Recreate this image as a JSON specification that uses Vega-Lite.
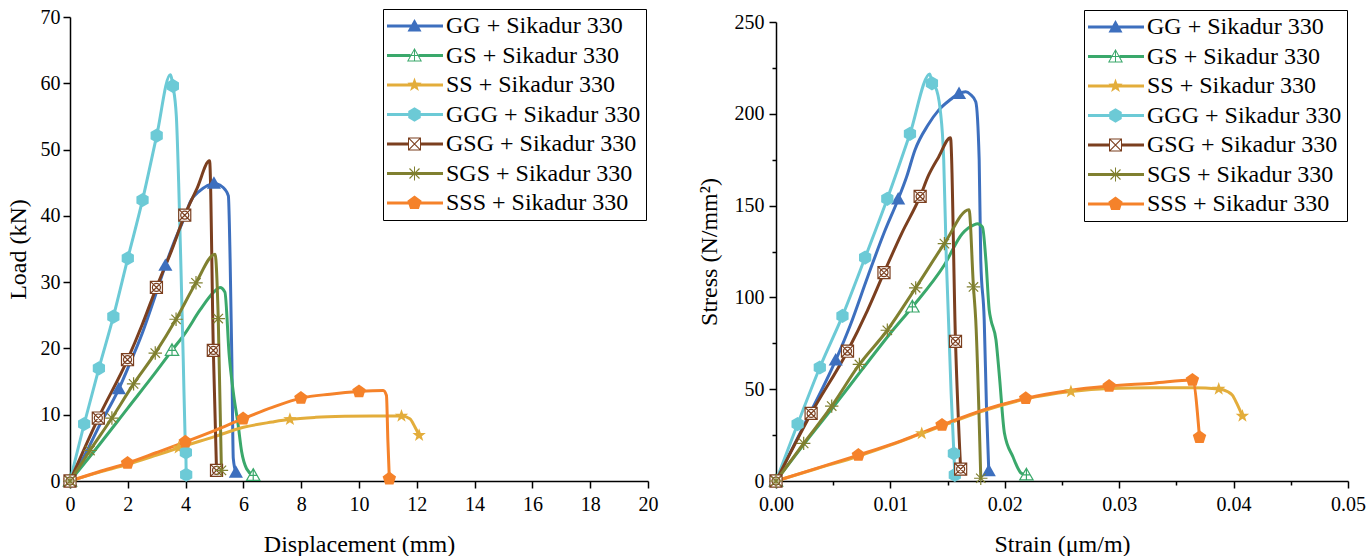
{
  "$schema": "https://vega.github.io/schema/vega-lite/v6.json",
  "background": "white",
  "padding": {"left": 6, "top": 7, "right": 0, "bottom": 0},
  "bounds": "flush",
  "spacing": 128,
  "datasets": {
    "load_curve": [
      {"series":"GG","displacement":0,"load":0},{"series":"GG","displacement":0.5,"load":3.8},{"series":"GG","displacement":1,"load":8.2},{"series":"GG","displacement":1.69,"load":13.9},{"series":"GG","displacement":2,"load":17},{"series":"GG","displacement":2.5,"load":22.3},{"series":"GG","displacement":3,"load":28.6},{"series":"GG","displacement":3.3,"load":32.5},{"series":"GG","displacement":3.6,"load":36},{"series":"GG","displacement":4,"load":40.2},{"series":"GG","displacement":4.15,"load":42},{"series":"GG","displacement":4.5,"load":43.8},{"series":"GG","displacement":4.73,"load":44.5},{"series":"GG","displacement":4.98,"load":44.9},{"series":"GG","displacement":5.2,"load":44.6},{"series":"GG","displacement":5.36,"load":44},{"series":"GG","displacement":5.48,"load":43},{"series":"GG","displacement":5.54,"load":33.5},{"series":"GG","displacement":5.6,"load":18.4},{"series":"GG","displacement":5.65,"load":3.4},{"series":"GG","displacement":5.74,"load":1.3},
      {"series":"GS","displacement":0,"load":0},{"series":"GS","displacement":1,"load":5.4},{"series":"GS","displacement":2,"load":11},{"series":"GS","displacement":3,"load":16.6},{"series":"GS","displacement":3.53,"load":19.7},{"series":"GS","displacement":4,"load":22.4},{"series":"GS","displacement":4.5,"load":25.8},{"series":"GS","displacement":5,"load":28.6},{"series":"GS","displacement":5.19,"load":29.2},{"series":"GS","displacement":5.36,"load":28.5},{"series":"GS","displacement":5.51,"load":18.9},{"series":"GS","displacement":5.65,"load":13.4},{"series":"GS","displacement":5.82,"load":8.4},{"series":"GS","displacement":5.94,"load":4.4},{"series":"GS","displacement":6.11,"load":1.85},{"series":"GS","displacement":6.34,"load":0.85},
      {"series":"SS","displacement":0,"load":0},{"series":"SS","displacement":1,"load":1.3},{"series":"SS","displacement":2,"load":2.5},{"series":"SS","displacement":3,"load":3.9},{"series":"SS","displacement":3.76,"load":5},{"series":"SS","displacement":5,"load":6.7},{"series":"SS","displacement":6,"load":8.1},{"series":"SS","displacement":7,"load":8.9},{"series":"SS","displacement":7.61,"load":9.3},{"series":"SS","displacement":8.5,"load":9.6},{"series":"SS","displacement":9.5,"load":9.75},{"series":"SS","displacement":10.5,"load":9.8},{"series":"SS","displacement":11.47,"load":9.8},{"series":"SS","displacement":11.76,"load":9.4},{"series":"SS","displacement":11.94,"load":8.1},{"series":"SS","displacement":12.08,"load":6.9},
      {"series":"GGG","displacement":0,"load":0},{"series":"GGG","displacement":0.49,"load":8.6},{"series":"GGG","displacement":1,"load":17},{"series":"GGG","displacement":1.5,"load":24.8},{"series":"GGG","displacement":2,"load":33.6},{"series":"GGG","displacement":2.51,"load":42.4},{"series":"GGG","displacement":3,"load":52.1},{"series":"GGG","displacement":3.47,"load":61.3},{"series":"GGG","displacement":3.56,"load":59.6},{"series":"GGG","displacement":3.68,"load":55},{"series":"GGG","displacement":3.76,"load":45},{"series":"GGG","displacement":3.84,"load":32},{"series":"GGG","displacement":3.92,"load":18},{"series":"GGG","displacement":3.98,"load":7},{"series":"GGG","displacement":4.01,"load":4.3},{"series":"GGG","displacement":4.02,"load":0.95},
      {"series":"GSG","displacement":0,"load":0},{"series":"GSG","displacement":0.98,"load":9.5},{"series":"GSG","displacement":1.99,"load":18.3},{"series":"GSG","displacement":2.5,"load":23.6},{"series":"GSG","displacement":2.99,"load":29.2},{"series":"GSG","displacement":3.5,"load":34.6},{"series":"GSG","displacement":3.97,"load":40.1},{"series":"GSG","displacement":4.4,"load":44.2},{"series":"GSG","displacement":4.83,"load":48.3},{"series":"GSG","displacement":4.96,"load":19.7},{"series":"GSG","displacement":5.07,"load":1.6},
      {"series":"SGS","displacement":0,"load":0},{"series":"SGS","displacement":0.69,"load":4.6},{"series":"SGS","displacement":1.45,"load":9.5},{"series":"SGS","displacement":2.2,"load":14.65},{"series":"SGS","displacement":2.95,"load":19.3},{"series":"SGS","displacement":3.67,"load":24.4},{"series":"SGS","displacement":4.36,"load":29.9},{"series":"SGS","displacement":5.02,"load":34.2},{"series":"SGS","displacement":5.13,"load":24.5},{"series":"SGS","displacement":5.24,"load":1.6},
      {"series":"SSS","displacement":0,"load":0},{"series":"SSS","displacement":1,"load":1.4},{"series":"SSS","displacement":1.99,"load":2.7},{"series":"SSS","displacement":3,"load":4.3},{"series":"SSS","displacement":3.99,"load":5.9},{"series":"SSS","displacement":5,"load":7.6},{"series":"SSS","displacement":5.99,"load":9.4},{"series":"SSS","displacement":7,"load":11.1},{"series":"SSS","displacement":7.99,"load":12.5},{"series":"SSS","displacement":9,"load":13.1},{"series":"SSS","displacement":10,"load":13.5},{"series":"SSS","displacement":10.84,"load":13.65},{"series":"SSS","displacement":10.95,"load":12.9},{"series":"SSS","displacement":11,"load":6},{"series":"SSS","displacement":11.05,"load":0.35}
    ],
    "load_markers": [
      {"series":"GG","displacement":0,"load":0},{"series":"GG","displacement":1.69,"load":13.9},{"series":"GG","displacement":3.3,"load":32.5},{"series":"GG","displacement":4.98,"load":44.9},{"series":"GG","displacement":5.74,"load":1.3},
      {"series":"GS","displacement":0,"load":0},{"series":"GS","displacement":3.53,"load":19.7},{"series":"GS","displacement":6.34,"load":0.85},
      {"series":"SS","displacement":0,"load":0},{"series":"SS","displacement":3.76,"load":5},{"series":"SS","displacement":7.61,"load":9.3},{"series":"SS","displacement":11.47,"load":9.8},{"series":"SS","displacement":12.08,"load":6.9},
      {"series":"GGG","displacement":0,"load":0},{"series":"GGG","displacement":0.49,"load":8.6},{"series":"GGG","displacement":1,"load":17},{"series":"GGG","displacement":1.5,"load":24.8},{"series":"GGG","displacement":2,"load":33.6},{"series":"GGG","displacement":2.51,"load":42.4},{"series":"GGG","displacement":3,"load":52.1},{"series":"GGG","displacement":3.56,"load":59.6},{"series":"GGG","displacement":4.01,"load":4.3},{"series":"GGG","displacement":4.02,"load":0.95},
      {"series":"GSG","displacement":0,"load":0},{"series":"GSG","displacement":0.98,"load":9.5},{"series":"GSG","displacement":1.99,"load":18.3},{"series":"GSG","displacement":2.99,"load":29.2},{"series":"GSG","displacement":3.97,"load":40.1},{"series":"GSG","displacement":4.96,"load":19.7},{"series":"GSG","displacement":5.07,"load":1.6},
      {"series":"SGS","displacement":0,"load":0},{"series":"SGS","displacement":0.69,"load":4.6},{"series":"SGS","displacement":1.45,"load":9.5},{"series":"SGS","displacement":2.2,"load":14.65},{"series":"SGS","displacement":2.95,"load":19.3},{"series":"SGS","displacement":3.67,"load":24.4},{"series":"SGS","displacement":4.36,"load":29.9},{"series":"SGS","displacement":5.13,"load":24.5},{"series":"SGS","displacement":5.24,"load":1.6},
      {"series":"SSS","displacement":0,"load":0},{"series":"SSS","displacement":1.99,"load":2.7},{"series":"SSS","displacement":3.99,"load":5.9},{"series":"SSS","displacement":5.99,"load":9.4},{"series":"SSS","displacement":7.99,"load":12.5},{"series":"SSS","displacement":10,"load":13.5},{"series":"SSS","displacement":11.05,"load":0.35}
    ],
    "stress_curve": [
      {"series":"GG","strain":0,"stress":0},{"series":"GG","strain":0.0025,"stress":31},{"series":"GG","strain":0.00522,"stress":65.8},{"series":"GG","strain":0.0065,"stress":85},{"series":"GG","strain":0.008,"stress":111},{"series":"GG","strain":0.0095,"stress":136},{"series":"GG","strain":0.01068,"stress":153.5},{"series":"GG","strain":0.01142,"stress":165.7},{"series":"GG","strain":0.01215,"stress":180.3},{"series":"GG","strain":0.0133,"stress":194},{"series":"GG","strain":0.01422,"stress":202},{"series":"GG","strain":0.0152,"stress":207.5},{"series":"GG","strain":0.016,"stress":211},{"series":"GG","strain":0.01658,"stress":212},{"series":"GG","strain":0.017,"stress":210.5},{"series":"GG","strain":0.01746,"stress":206.6},{"series":"GG","strain":0.01776,"stress":175},{"series":"GG","strain":0.0179,"stress":120},{"series":"GG","strain":0.0182,"stress":87.7},{"series":"GG","strain":0.0184,"stress":40},{"series":"GG","strain":0.0186,"stress":5.5},
      {"series":"GS","strain":0,"stress":0},{"series":"GS","strain":0.0025,"stress":20.5},{"series":"GS","strain":0.005,"stress":40.2},{"series":"GS","strain":0.0075,"stress":60.5},{"series":"GS","strain":0.01,"stress":80.5},{"series":"GS","strain":0.01192,"stress":94.8},{"series":"GS","strain":0.0147,"stress":117.5},{"series":"GS","strain":0.01628,"stress":134.7},{"series":"GS","strain":0.0173,"stress":139.5},{"series":"GS","strain":0.01761,"stress":140.1},{"series":"GS","strain":0.01805,"stress":138.3},{"series":"GS","strain":0.01835,"stress":120},{"series":"GS","strain":0.01864,"stress":93},{"series":"GS","strain":0.01879,"stress":87.7},{"series":"GS","strain":0.01923,"stress":76.8},{"series":"GS","strain":0.01953,"stress":57},{"series":"GS","strain":0.01997,"stress":26},{"series":"GS","strain":0.02071,"stress":13.2},{"series":"GS","strain":0.02144,"stress":4.2},{"series":"GS","strain":0.02189,"stress":3.3},
      {"series":"SS","strain":0,"stress":0},{"series":"SS","strain":0.0036,"stress":6.8},{"series":"SS","strain":0.0072,"stress":13.5},{"series":"SS","strain":0.01,"stress":19.5},{"series":"SS","strain":0.01274,"stress":25.9},{"series":"SS","strain":0.0145,"stress":30},{"series":"SS","strain":0.018,"stress":38},{"series":"SS","strain":0.0218,"stress":44.6},{"series":"SS","strain":0.02578,"stress":48.7},{"series":"SS","strain":0.0291,"stress":50.4},{"series":"SS","strain":0.033,"stress":50.8},{"series":"SS","strain":0.0364,"stress":50.8},{"series":"SS","strain":0.0387,"stress":50.1},{"series":"SS","strain":0.0395,"stress":48.6},{"series":"SS","strain":0.03989,"stress":46.8},{"series":"SS","strain":0.0403,"stress":42},{"series":"SS","strain":0.04077,"stress":35.4},
      {"series":"GGG","strain":0,"stress":0},{"series":"GGG","strain":0.00189,"stress":31},{"series":"GGG","strain":0.00383,"stress":61.8},{"series":"GGG","strain":0.00581,"stress":89.9},{"series":"GGG","strain":0.00779,"stress":121.7},{"series":"GGG","strain":0.00973,"stress":153.7},{"series":"GGG","strain":0.01171,"stress":189.1},{"series":"GGG","strain":0.01345,"stress":221.7},{"series":"GGG","strain":0.01363,"stress":216.6},{"series":"GGG","strain":0.01392,"stress":214.8},{"series":"GGG","strain":0.01436,"stress":202},{"series":"GGG","strain":0.01466,"stress":175},{"series":"GGG","strain":0.01489,"stress":120.4},{"series":"GGG","strain":0.01531,"stress":47.7},{"series":"GGG","strain":0.01555,"stress":15},{"series":"GGG","strain":0.01563,"stress":3.3},
      {"series":"GSG","strain":0,"stress":0},{"series":"GSG","strain":0.00307,"stress":36.8},{"series":"GSG","strain":0.00625,"stress":70.7},{"series":"GSG","strain":0.008,"stress":93},{"series":"GSG","strain":0.00944,"stress":113.5},{"series":"GSG","strain":0.011,"stress":135},{"series":"GSG","strain":0.0126,"stress":155},{"series":"GSG","strain":0.01333,"stress":166.4},{"series":"GSG","strain":0.01422,"stress":176.5},{"series":"GSG","strain":0.01525,"stress":187},{"series":"GSG","strain":0.01569,"stress":76.1},{"series":"GSG","strain":0.01614,"stress":6.5},
      {"series":"SGS","strain":0,"stress":0},{"series":"SGS","strain":0.00242,"stress":20.5},{"series":"SGS","strain":0.00487,"stress":40.8},{"series":"SGS","strain":0.00729,"stress":63.5},{"series":"SGS","strain":0.00973,"stress":82.1},{"series":"SGS","strain":0.01221,"stress":105.2},{"series":"SGS","strain":0.01472,"stress":129.3},{"series":"SGS","strain":0.01687,"stress":147.8},{"series":"SGS","strain":0.01726,"stress":105.7},{"series":"SGS","strain":0.01746,"stress":87.7},{"series":"SGS","strain":0.0179,"stress":1.5},
      {"series":"SSS","strain":0,"stress":0},{"series":"SSS","strain":0.0036,"stress":7},{"series":"SSS","strain":0.0072,"stress":14.1},{"series":"SSS","strain":0.011,"stress":22},{"series":"SSS","strain":0.01451,"stress":30.5},{"series":"SSS","strain":0.018,"stress":38.5},{"series":"SSS","strain":0.02183,"stress":45},{"series":"SSS","strain":0.0255,"stress":49.2},{"series":"SSS","strain":0.02912,"stress":51.7},{"series":"SSS","strain":0.033,"stress":53.3},{"series":"SSS","strain":0.0364,"stress":55},{"series":"SSS","strain":0.03702,"stress":23.8}
    ],
    "stress_markers": [
      {"series":"GG","strain":0,"stress":0},{"series":"GG","strain":0.00522,"stress":65.8},{"series":"GG","strain":0.01068,"stress":153.5},{"series":"GG","strain":0.016,"stress":211},{"series":"GG","strain":0.0186,"stress":5.5},
      {"series":"GS","strain":0,"stress":0},{"series":"GS","strain":0.01192,"stress":94.8},{"series":"GS","strain":0.02189,"stress":3.3},
      {"series":"SS","strain":0,"stress":0},{"series":"SS","strain":0.01274,"stress":25.9},{"series":"SS","strain":0.02578,"stress":48.7},{"series":"SS","strain":0.0387,"stress":50.1},{"series":"SS","strain":0.04077,"stress":35.4},
      {"series":"GGG","strain":0,"stress":0},{"series":"GGG","strain":0.00189,"stress":31},{"series":"GGG","strain":0.00383,"stress":61.8},{"series":"GGG","strain":0.00581,"stress":89.9},{"series":"GGG","strain":0.00779,"stress":121.7},{"series":"GGG","strain":0.00973,"stress":153.7},{"series":"GGG","strain":0.01171,"stress":189.1},{"series":"GGG","strain":0.01363,"stress":216.6},{"series":"GGG","strain":0.01555,"stress":15},{"series":"GGG","strain":0.01563,"stress":3.3},
      {"series":"GSG","strain":0,"stress":0},{"series":"GSG","strain":0.00307,"stress":36.8},{"series":"GSG","strain":0.00625,"stress":70.7},{"series":"GSG","strain":0.00944,"stress":113.5},{"series":"GSG","strain":0.0126,"stress":155},{"series":"GSG","strain":0.01569,"stress":76.1},{"series":"GSG","strain":0.01614,"stress":6.5},
      {"series":"SGS","strain":0,"stress":0},{"series":"SGS","strain":0.00242,"stress":20.5},{"series":"SGS","strain":0.00487,"stress":40.8},{"series":"SGS","strain":0.00729,"stress":63.5},{"series":"SGS","strain":0.00973,"stress":82.1},{"series":"SGS","strain":0.01221,"stress":105.2},{"series":"SGS","strain":0.01472,"stress":129.3},{"series":"SGS","strain":0.01726,"stress":105.7},{"series":"SGS","strain":0.0179,"stress":1.5},
      {"series":"SSS","strain":0,"stress":0},{"series":"SSS","strain":0.0072,"stress":14.1},{"series":"SSS","strain":0.01451,"stress":30.5},{"series":"SSS","strain":0.02183,"stress":45},{"series":"SSS","strain":0.02912,"stress":51.7},{"series":"SSS","strain":0.0364,"stress":55},{"series":"SSS","strain":0.03702,"stress":23.8}
    ]
  },
  "hconcat": [
    {
      "width": 578,
      "height": 464,
      "layer": [
        {
          "data": {"name": "load_markers"},
          "transform": [{"filter": "datum.load < 0"}],
          "mark": {"type": "point", "filled": true, "size": 400, "opacity": 1, "strokeWidth": 0},
          "encoding": {
            "x": {"field": "displacement", "type": "quantitative", "scale": {"domain": [0, 20], "nice": false},
              "axis": {"title": "Displacement (mm)", "values": [0,1,2,3,4,5,6,7,8,9,10,11,12,13,14,15,16,17,18,19,20],
                "labelExpr": "datum.value % 2 === 0 ? datum.label : ''",
                "tickSize": {"condition": {"test": "datum.value % 2 === 0", "value": 7}, "value": 4}}},
            "y": {"field": "load", "type": "quantitative", "scale": {"domain": [0, 70], "nice": false},
              "axis": {"title": "Load (kN)", "values": [0,5,10,15,20,25,30,35,40,45,50,55,60,65,70],
                "labelExpr": "datum.value % 10 === 0 ? datum.label : ''",
                "tickSize": {"condition": {"test": "datum.value % 10 === 0", "value": 7}, "value": 4}}},
            "color": {"field": "series", "type": "nominal",
              "scale": {"domain": ["GG","GS","SS","GGG","GSG","SGS","SSS"], "range": ["#3D6FBE","#3AA86B","#E3AD3B","#6CCAD6","#7B3F1F","#808030","#F5822A"]},
              "legend": {"orient": "none", "legendX": 313, "legendY": -8, "title": null,
                "labelExpr": "datum.label + ' + Sikadur 330'"}},
            "shape": {"field": "series", "type": "nominal", "legend": null,
              "scale": {"domain": ["GG","GS","SS","GGG","GSG","SGS","SSS"],
                "range": ["M-1.3,-0.15L4.3,-0.15L4.3,0.15L-1.3,0.15Z M1.45,-0.7L2.15,0.55L0.75,0.55Z",
                  "M-1.3,-0.15L1.05,-0.15L1.05,0.15L-1.3,0.15Z M1.85,-0.15L4.3,-0.15L4.3,0.15L1.85,0.15Z M1.45,-0.75L2.2,0.6L0.7,0.6Z M1.45,-0.544L0.87,0.5L2.03,0.5Z M1.4,-0.7L1.5,-0.7L1.5,0.6L1.4,0.6Z M1.05,-0.05L1.85,-0.05L1.85,0.05L1.05,0.05Z",
                  "M-1.3,-0.15L4.3,-0.15L4.3,0.15L-1.3,0.15Z M1.45,-0.75L1.626,-0.243L2.163,-0.232L1.735,0.093L1.891,0.607L1.45,0.3L1.009,0.607L1.165,0.093L0.737,-0.232L1.274,-0.243Z",
                  "M-1.3,-0.15L4.3,-0.15L4.3,0.15L-1.3,0.15Z M1.45,-0.72L2.074,-0.36L2.074,0.36L1.45,0.72L0.826,0.36L0.826,-0.36Z",
                  "M-1.3,-0.15L0.8,-0.15L0.8,0.15L-1.3,0.15Z M2.1,-0.15L4.3,-0.15L4.3,0.15L2.1,0.15Z M0.8,-0.65L2.1,-0.65L2.1,0.65L0.8,0.65Z M0.9,-0.55L0.9,0.55L2,0.55L2,-0.55Z M0.88,-0.65L2.1,0.57L2.02,0.65L0.8,-0.57Z M2.1,-0.57L0.88,0.65L0.8,0.57L2.02,-0.65Z",
                  "M-1.3,-0.15L4.3,-0.15L4.3,0.15L-1.3,0.15Z M1.4,-0.7L1.5,-0.7L1.5,0.7L1.4,0.7Z M0.99,-0.54L1.99,0.46L1.91,0.54L0.91,-0.46Z M1.99,-0.46L0.99,0.54L0.91,0.46L1.91,-0.54Z",
                  "M-1.3,-0.15L4.3,-0.15L4.3,0.15L-1.3,0.15Z M1.45,-0.75L2.163,-0.232L1.891,0.607L1.009,0.607L0.737,-0.232Z"]}}
          }
        },
        {
          "data": {"name": "load_curve"},
          "mark": {"type": "line", "strokeWidth": 3, "interpolate": "monotone"},
          "encoding": {
            "x": {"field": "displacement", "type": "quantitative"},
            "y": {"field": "load", "type": "quantitative"},
            "color": {"field": "series", "type": "nominal", "legend": null}
          }
        },
        {
          "data": {"name": "load_markers"},
          "transform": [{"filter": {"field": "series", "oneOf": ["GG","SS","GGG","SSS"]}}],
          "mark": {"type": "point", "filled": true, "size": 200, "opacity": 1},
          "encoding": {
            "x": {"field": "displacement", "type": "quantitative"},
            "y": {"field": "load", "type": "quantitative"},
            "color": {"field": "series", "type": "nominal", "legend": null},
            "shape": {"condition": [
              {"test": "datum.series === 'GG'", "value": "M0,-1L1,0.75L-1,0.75Z"},
              {"test": "datum.series === 'SS'", "value": "M0,-1L0.235,-0.324L0.951,-0.309L0.38,0.124L0.588,0.809L0,0.4L-0.588,0.809L-0.38,0.124L-0.951,-0.309L-0.235,-0.324Z"},
              {"test": "datum.series === 'GGG'", "value": "M0,-1L0.866,-0.5L0.866,0.5L0,1L-0.866,0.5L-0.866,-0.5Z"}],
              "value": "M0,-1L0.951,-0.309L0.588,0.809L-0.588,0.809L-0.951,-0.309Z"}
          }
        },
        {
          "data": {"name": "load_markers"},
          "transform": [{"filter": {"field": "series", "oneOf": ["GS","GSG","SGS"]}}],
          "mark": {"type": "point", "filled": false, "fill": "white", "fillOpacity": 1, "strokeWidth": 1.2, "size": 180, "opacity": 1},
          "encoding": {
            "x": {"field": "displacement", "type": "quantitative"},
            "y": {"field": "load", "type": "quantitative"},
            "color": {"field": "series", "type": "nominal", "legend": null},
            "shape": {"condition": [
              {"test": "datum.series === 'GS'", "value": "M0,-1L1,0.75L-1,0.75Z M0,-1L0,0.75 M-0.55,0L0.55,0"},
              {"test": "datum.series === 'GSG'", "value": "M-0.9,-0.9L0.9,-0.9L0.9,0.9L-0.9,0.9Z M-0.9,-0.9L0.9,0.9 M0.9,-0.9L-0.9,0.9 M0.6,0A0.6,0.6 0 1 1 -0.6,0A0.6,0.6 0 1 1 0.6,0"}],
              "value": "M0,-1L0,1 M-1,0L1,0 M-0.7,-0.7L0.7,0.7 M0.7,-0.7L-0.7,0.7"}
          }
        }
      ]
    },
    {
      "width": 572,
      "height": 464,
      "layer": [
        {
          "data": {"name": "stress_markers"},
          "transform": [{"filter": "datum.stress < 0"}],
          "mark": {"type": "point", "filled": true, "size": 400, "opacity": 1, "strokeWidth": 0},
          "encoding": {
            "x": {"field": "strain", "type": "quantitative", "scale": {"domain": [0, 0.05], "nice": false},
              "axis": {"title": "Strain (μm/m)", "values": [0,0.005,0.01,0.015,0.02,0.025,0.03,0.035,0.04,0.045,0.05],
                "labelExpr": "round(datum.value*1000) % 10 === 0 ? format(datum.value, '.2f') : ''",
                "tickSize": {"condition": {"test": "round(datum.value*1000) % 10 === 0", "value": 7}, "value": 4}}},
            "y": {"field": "stress", "type": "quantitative", "scale": {"domain": [0, 250], "nice": false, "range": [464, 5]},
              "axis": {"title": "Stress (N/mm²)", "values": [0,25,50,75,100,125,150,175,200,225,250],
                "labelPadding": 5, "titlePadding": 13,
                "labelExpr": "datum.value % 50 === 0 ? datum.label : ''",
                "tickSize": {"condition": {"test": "datum.value % 50 === 0", "value": 7}, "value": 4}}},
            "color": {"field": "series", "type": "nominal",
              "scale": {"domain": ["GG","GS","SS","GGG","GSG","SGS","SSS"], "range": ["#3D6FBE","#3AA86B","#E3AD3B","#6CCAD6","#7B3F1F","#808030","#F5822A"]},
              "legend": {"orient": "none", "legendX": 308, "legendY": -7, "title": null,
                "labelExpr": "datum.label + ' + Sikadur 330'"}},
            "shape": {"field": "series", "type": "nominal", "legend": null,
              "scale": {"domain": ["GG","GS","SS","GGG","GSG","SGS","SSS"],
                "range": ["M-1.3,-0.15L4.3,-0.15L4.3,0.15L-1.3,0.15Z M1.45,-0.7L2.15,0.55L0.75,0.55Z",
                  "M-1.3,-0.15L1.05,-0.15L1.05,0.15L-1.3,0.15Z M1.85,-0.15L4.3,-0.15L4.3,0.15L1.85,0.15Z M1.45,-0.75L2.2,0.6L0.7,0.6Z M1.45,-0.544L0.87,0.5L2.03,0.5Z M1.4,-0.7L1.5,-0.7L1.5,0.6L1.4,0.6Z M1.05,-0.05L1.85,-0.05L1.85,0.05L1.05,0.05Z",
                  "M-1.3,-0.15L4.3,-0.15L4.3,0.15L-1.3,0.15Z M1.45,-0.75L1.626,-0.243L2.163,-0.232L1.735,0.093L1.891,0.607L1.45,0.3L1.009,0.607L1.165,0.093L0.737,-0.232L1.274,-0.243Z",
                  "M-1.3,-0.15L4.3,-0.15L4.3,0.15L-1.3,0.15Z M1.45,-0.72L2.074,-0.36L2.074,0.36L1.45,0.72L0.826,0.36L0.826,-0.36Z",
                  "M-1.3,-0.15L0.8,-0.15L0.8,0.15L-1.3,0.15Z M2.1,-0.15L4.3,-0.15L4.3,0.15L2.1,0.15Z M0.8,-0.65L2.1,-0.65L2.1,0.65L0.8,0.65Z M0.9,-0.55L0.9,0.55L2,0.55L2,-0.55Z M0.88,-0.65L2.1,0.57L2.02,0.65L0.8,-0.57Z M2.1,-0.57L0.88,0.65L0.8,0.57L2.02,-0.65Z",
                  "M-1.3,-0.15L4.3,-0.15L4.3,0.15L-1.3,0.15Z M1.4,-0.7L1.5,-0.7L1.5,0.7L1.4,0.7Z M0.99,-0.54L1.99,0.46L1.91,0.54L0.91,-0.46Z M1.99,-0.46L0.99,0.54L0.91,0.46L1.91,-0.54Z",
                  "M-1.3,-0.15L4.3,-0.15L4.3,0.15L-1.3,0.15Z M1.45,-0.75L2.163,-0.232L1.891,0.607L1.009,0.607L0.737,-0.232Z"]}}
          }
        },
        {
          "data": {"name": "stress_curve"},
          "mark": {"type": "line", "strokeWidth": 3, "interpolate": "monotone"},
          "encoding": {
            "x": {"field": "strain", "type": "quantitative"},
            "y": {"field": "stress", "type": "quantitative"},
            "color": {"field": "series", "type": "nominal", "legend": null}
          }
        },
        {
          "data": {"name": "stress_markers"},
          "transform": [{"filter": {"field": "series", "oneOf": ["GG","SS","GGG","SSS"]}}],
          "mark": {"type": "point", "filled": true, "size": 200, "opacity": 1},
          "encoding": {
            "x": {"field": "strain", "type": "quantitative"},
            "y": {"field": "stress", "type": "quantitative"},
            "color": {"field": "series", "type": "nominal", "legend": null},
            "shape": {"condition": [
              {"test": "datum.series === 'GG'", "value": "M0,-1L1,0.75L-1,0.75Z"},
              {"test": "datum.series === 'SS'", "value": "M0,-1L0.235,-0.324L0.951,-0.309L0.38,0.124L0.588,0.809L0,0.4L-0.588,0.809L-0.38,0.124L-0.951,-0.309L-0.235,-0.324Z"},
              {"test": "datum.series === 'GGG'", "value": "M0,-1L0.866,-0.5L0.866,0.5L0,1L-0.866,0.5L-0.866,-0.5Z"}],
              "value": "M0,-1L0.951,-0.309L0.588,0.809L-0.588,0.809L-0.951,-0.309Z"}
          }
        },
        {
          "data": {"name": "stress_markers"},
          "transform": [{"filter": {"field": "series", "oneOf": ["GS","GSG","SGS"]}}],
          "mark": {"type": "point", "filled": false, "fill": "white", "fillOpacity": 1, "strokeWidth": 1.2, "size": 180, "opacity": 1},
          "encoding": {
            "x": {"field": "strain", "type": "quantitative"},
            "y": {"field": "stress", "type": "quantitative"},
            "color": {"field": "series", "type": "nominal", "legend": null},
            "shape": {"condition": [
              {"test": "datum.series === 'GS'", "value": "M0,-1L1,0.75L-1,0.75Z M0,-1L0,0.75 M-0.55,0L0.55,0"},
              {"test": "datum.series === 'GSG'", "value": "M-0.9,-0.9L0.9,-0.9L0.9,0.9L-0.9,0.9Z M-0.9,-0.9L0.9,0.9 M0.9,-0.9L-0.9,0.9 M0.6,0A0.6,0.6 0 1 1 -0.6,0A0.6,0.6 0 1 1 0.6,0"}],
              "value": "M0,-1L0,1 M-1,0L1,0 M-0.7,-0.7L0.7,0.7 M0.7,-0.7L-0.7,0.7"}
          }
        }
      ]
    }
  ],
  "resolve": {"scale": {"color": "independent", "shape": "independent"}, "legend": {"color": "independent", "shape": "independent"}},
  "config": {
    "view": {"stroke": null},
    "font": "Liberation Serif",
    "axis": {"domainColor": "black", "domainWidth": 1.5, "tickColor": "black", "tickWidth": 1.5, "grid": false,
      "labelFont": "Liberation Serif", "labelFontSize": 20, "labelColor": "black", "labelFlush": false, "labelOverlap": false, "labelPadding": 3,
      "titleFont": "Liberation Serif", "titleFontSize": 24, "titleFontWeight": "normal", "titleColor": "black"},
    "axisX": {"titlePadding": 18, "labelPadding": 6},
    "axisY": {"titlePadding": 10},
    "legend": {"labelFont": "Liberation Serif", "labelFontSize": 24, "labelColor": "black", "labelLimit": 400,
      "strokeColor": "black", "fillColor": "white", "padding": 5, "rowPadding": 5.5, "symbolSize": 400, "symbolStrokeWidth": 0, "symbolOpacity": 1, "labelOffset": 34}
  }
}
